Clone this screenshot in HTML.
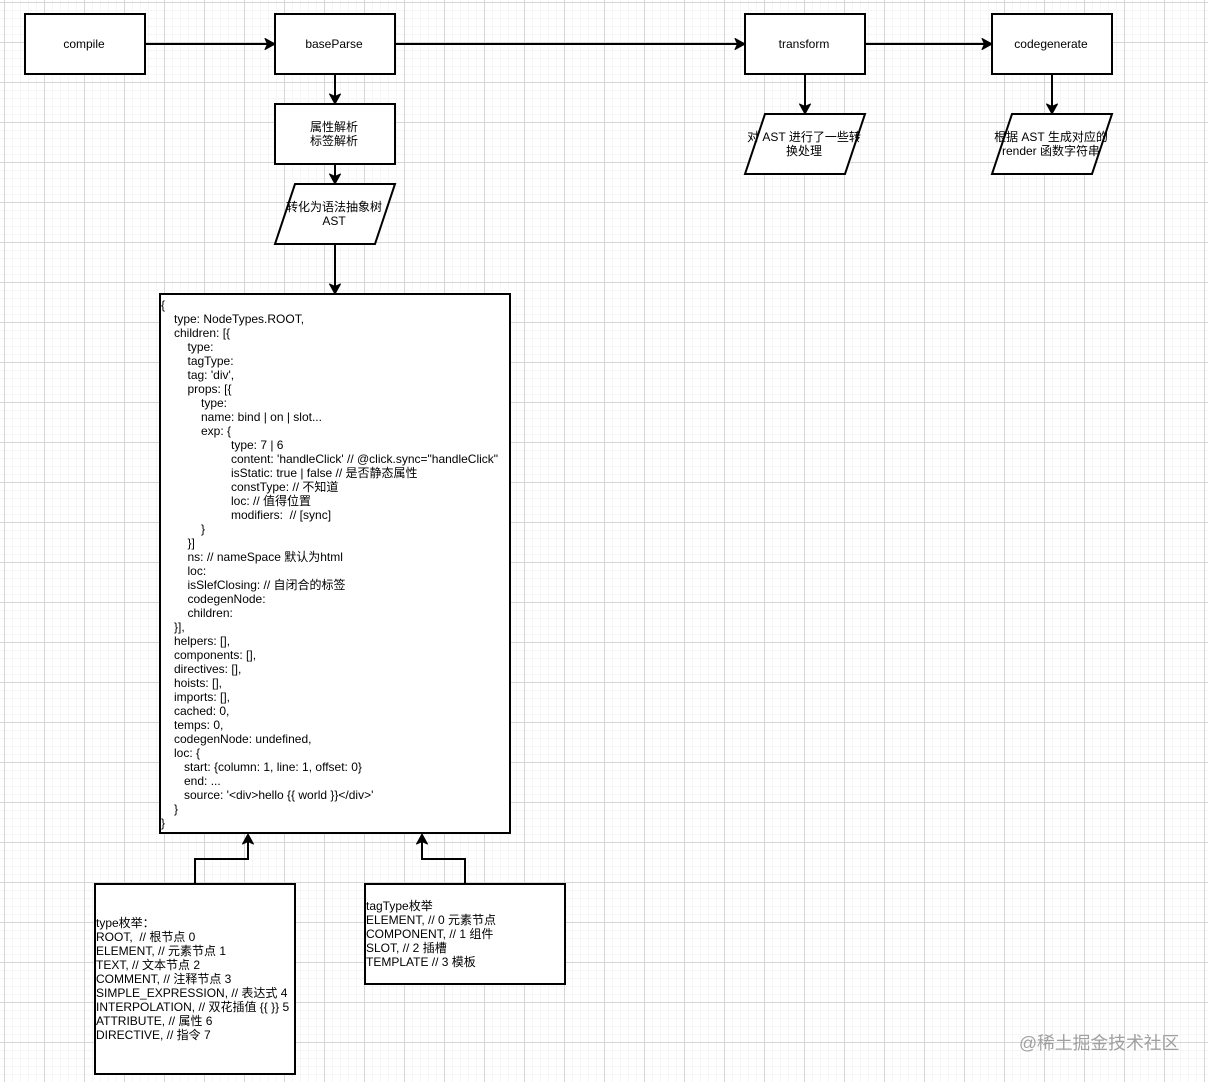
<!DOCTYPE html>
<html><head><meta charset="utf-8"><style>
html,body{margin:0;padding:0;background:#fff;width:1208px;height:1082px;overflow:hidden}
svg{display:block;filter:blur(0.3px)}
text{font-family:"Liberation Sans","Noto Sans CJK SC",sans-serif;font-size:12px;fill:#000}
.c{text-anchor:middle}
.s{fill:#fff;stroke:#000;stroke-width:2}
.l{fill:none;stroke:#000;stroke-width:2}
.a{fill:#000;stroke:#000;stroke-width:1;stroke-linejoin:round}
</style></head><body>
<svg width="1208" height="1082" viewBox="0 0 1208 1082" xmlns="http://www.w3.org/2000/svg">
<defs>
<pattern id="g" x="4" y="2" width="40" height="40" patternUnits="userSpaceOnUse">
<path d="M8.500 0V40M16.500 0V40M24.500 0V40M32.500 0V40M0 8.500H40M0 16.500H40M0 24.500H40M0 32.500H40" stroke="#f6f6f6" stroke-width="1" fill="none"/>
<path d="M0.500 0V40M0 0.500H40" stroke="#d6d6d6" stroke-width="1" fill="none"/>
</pattern>
</defs>
<rect width="1208" height="1082" fill="#fff"/>
<rect width="1208" height="1082" fill="url(#g)"/>

<!-- connectors -->
<path class="l" d="M146 44H268M396 44H738M866 44H985M335 74V97M335 164V177M335 244V287M805 74V107M1052 74V107M195 884V859H248V841M465 884V859H422V841"/>
<path class="a" d="M275 44l-10-5.500 2.500 5.500-2.500 5.500zM745 44l-10-5.500 2.500 5.500-2.500 5.500zM992 44l-10-5.500 2.500 5.500-2.500 5.500z"/>
<path class="a" d="M335 104l-5.500-10 5.500 2.500 5.500-2.500zM335 184l-5.500-10 5.500 2.500 5.500-2.500zM335 294l-5.500-10 5.500 2.500 5.500-2.500zM805 114l-5.500-10 5.500 2.500 5.500-2.500zM1052 114l-5.500-10 5.500 2.500 5.500-2.500z"/>
<path class="a" d="M248 834l-5.500 10 5.500-2.500 5.500 2.500zM422 834l-5.500 10 5.500-2.500 5.500 2.500z"/>

<!-- nodes -->
<rect class="s" x="25" y="14" width="120" height="60"/>
<rect class="s" x="275" y="14" width="120" height="60"/>
<rect class="s" x="745" y="14" width="120" height="60"/>
<rect class="s" x="992" y="14" width="120" height="60"/>
<rect class="s" x="275" y="104" width="120" height="60"/>
<path class="s" d="M295 184H395L375 244H275Z"/>
<path class="s" d="M765 114H865L845 174H745Z"/>
<path class="s" d="M1012 114H1112L1092 174H992Z"/>
<rect class="s" x="160" y="294" width="350" height="539"/>
<rect class="s" x="95" y="884" width="200" height="190"/>
<rect class="s" x="365" y="884" width="200" height="100"/>

<!-- node labels -->
<text class="c" x="84" y="48">compile</text>
<text class="c" x="334" y="48">baseParse</text>
<text class="c" x="804" y="48">transform</text>
<text class="c" x="1051" y="48">codegenerate</text>
<text class="c" x="334" y="131">属性解析</text>
<text class="c" x="334" y="145">标签解析</text>
<text class="c" x="334" y="211">转化为语法抽象树</text>
<text class="c" x="334" y="225">AST</text>
<text class="c" x="804" y="141">对 AST 进行了一些转</text>
<text class="c" x="804" y="155">换处理</text>
<text class="c" x="1051" y="141">根据 AST 生成对应的</text>
<text class="c" x="1051" y="155">render 函数字符串</text>

<!-- AST box -->
<text x="161" y="309">{</text>
<text x="174" y="323">type: NodeTypes.ROOT,</text>
<text x="174" y="337">children: [{</text>
<text x="187.500" y="351">type:</text>
<text x="187.500" y="365">tagType:</text>
<text x="187.500" y="379">tag: 'div',</text>
<text x="187.500" y="393">props: [{</text>
<text x="201" y="407">type:</text>
<text x="201" y="421">name: bind | on | slot...</text>
<text x="201" y="435">exp: {</text>
<text x="231" y="449">type: 7 | 6</text>
<text x="231" y="463">content: 'handleClick' // @click.sync="handleClick"</text>
<text x="231" y="477">isStatic: true | false // 是否静态属性</text>
<text x="231" y="491">constType: // 不知道</text>
<text x="231" y="505">loc: // 值得位置</text>
<text x="231" y="519" xml:space="preserve">modifiers:  // [sync]</text>
<text x="201" y="533">}</text>
<text x="187.500" y="547">}]</text>
<text x="187.500" y="561">ns: // nameSpace 默认为html</text>
<text x="187.500" y="575">loc:</text>
<text x="187.500" y="589">isSlefClosing: // 自闭合的标签</text>
<text x="187.500" y="603">codegenNode:</text>
<text x="187.500" y="617">children:</text>
<text x="174" y="631">}],</text>
<text x="174" y="645">helpers: [],</text>
<text x="174" y="659">components: [],</text>
<text x="174" y="673">directives: [],</text>
<text x="174" y="687">hoists: [],</text>
<text x="174" y="701">imports: [],</text>
<text x="174" y="715">cached: 0,</text>
<text x="174" y="729">temps: 0,</text>
<text x="174" y="743">codegenNode: undefined,</text>
<text x="174" y="757">loc: {</text>
<text x="184" y="771">start: {column: 1, line: 1, offset: 0}</text>
<text x="184" y="785">end: ...</text>
<text x="184" y="799">source: '&lt;div&gt;hello {{ world }}&lt;/div&gt;'</text>
<text x="174" y="813">}</text>
<text x="161" y="827">}</text>

<!-- type enum -->
<text x="96" y="927">type枚举：</text>
<text x="96" y="941" xml:space="preserve">ROOT,  // 根节点 0</text>
<text x="96" y="955">ELEMENT, // 元素节点 1</text>
<text x="96" y="969">TEXT, // 文本节点 2</text>
<text x="96" y="983">COMMENT, // 注释节点 3</text>
<text x="96" y="997">SIMPLE_EXPRESSION, // 表达式 4</text>
<text x="96" y="1011">INTERPOLATION, // 双花插值 {{ }} 5</text>
<text x="96" y="1025">ATTRIBUTE, // 属性 6</text>
<text x="96" y="1039">DIRECTIVE, // 指令 7</text>

<!-- tagType enum -->
<text x="366" y="910">tagType枚举</text>
<text x="366" y="924">ELEMENT, // 0 元素节点</text>
<text x="366" y="938">COMPONENT, // 1 组件</text>
<text x="366" y="952">SLOT, // 2 插槽</text>
<text x="366" y="966">TEMPLATE // 3 模板</text>

<!-- watermark -->
<text x="1019" y="1049" style="font-size:17.800px;fill:#a0a0a0">@稀土掘金技术社区</text>
</svg>
</body></html>
